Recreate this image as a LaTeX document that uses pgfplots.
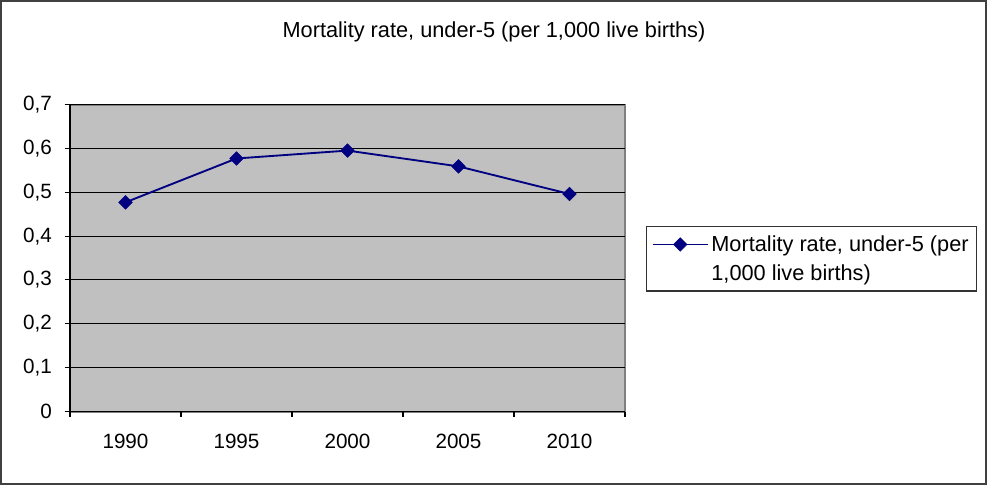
\documentclass[border=0pt]{standalone}
\usepackage{pgfplots}
\pgfplotsset{compat=1.18}
\usepackage{fontspec}
\setmainfont{Liberation Sans}

\definecolor{plotbg}{RGB}{192,192,192}
\definecolor{navyline}{RGB}{0,0,128}
\definecolor{frameg}{RGB}{128,128,128}

\begin{document}
\begin{tikzpicture}
  % page of 987 x 485 px, 1 px = 0.75pt
  \useasboundingbox (0,0) rectangle (740.25pt,363.75pt);
  \draw[line width=1.2pt, black!75] (0.6pt,0.6pt) rectangle (739.65pt,363.15pt);

  \node[font=\fontsize{16.3}{19}\selectfont] at (370.5pt,339.75pt)
    {Mortality rate, under-5 (per 1,000 live births)};

  \begin{axis}[
      at={(52.5pt,55.1pt)}, anchor=south west,
      scale only axis,
      width=416.25pt, height=230.25pt,
      xmin=-0.5, xmax=4.5,
      ymin=0, ymax=0.7,
      axis x line*=bottom, axis y line*=left,
      axis line style={black, line width=0.8pt},
      axis background/.style={fill=plotbg, draw=frameg, line width=1.5pt},
      xtick={-0.5,0.5,1.5,2.5,3.5,4.5},
      xticklabels={,,,,,},
      extra x ticks={0,1,2,3,4},
      extra x tick labels={1990,1995,2000,2005,2010},
      extra x tick style={major tick length=0pt},
      major tick length=4pt,
      tick align=outside,
      tick style={black, line width=0.8pt},
      ytick={0,0.1,...,0.7},
      ymajorgrids=true,
      major grid style={black, line width=0.8pt},
      tick label style={font=\fontsize{15.5}{18}\selectfont},
      xticklabel style={yshift=-13pt},
      yticklabel style={xshift=-6pt},
      /pgf/number format/.cd, use comma, fixed, precision=1, assume math mode=true,
      /pgfplots/.cd,
      legend style={
        at={(1.0378,0.603)}, anchor=north west,
        draw=black!80, line width=0.8pt, fill=white,
        font=\fontsize{16.3}{21.75}\selectfont,
        cells={align=left},
        inner xsep=4pt, inner ysep=4.5pt,
      },
      legend image code/.code={
        \draw[mark repeat=2,mark phase=2,#1,line width=1.4pt]
          plot coordinates {(0pt,10.9pt) (20.6pt,10.9pt) (41.25pt,10.9pt)};
      },
    ]
    \addplot[navyline, line width=1.4pt, mark=square*, mark size=3.6pt,
             mark options={rotate=45, fill=navyline, line width=0.4pt}]
      coordinates {(0,0.477) (1,0.577) (2,0.595) (3,0.559) (4,0.496)};
    \addlegendentry{Mortality rate, under-5 (per\\1,000 live births)}
  \end{axis}
\end{tikzpicture}
\end{document}
